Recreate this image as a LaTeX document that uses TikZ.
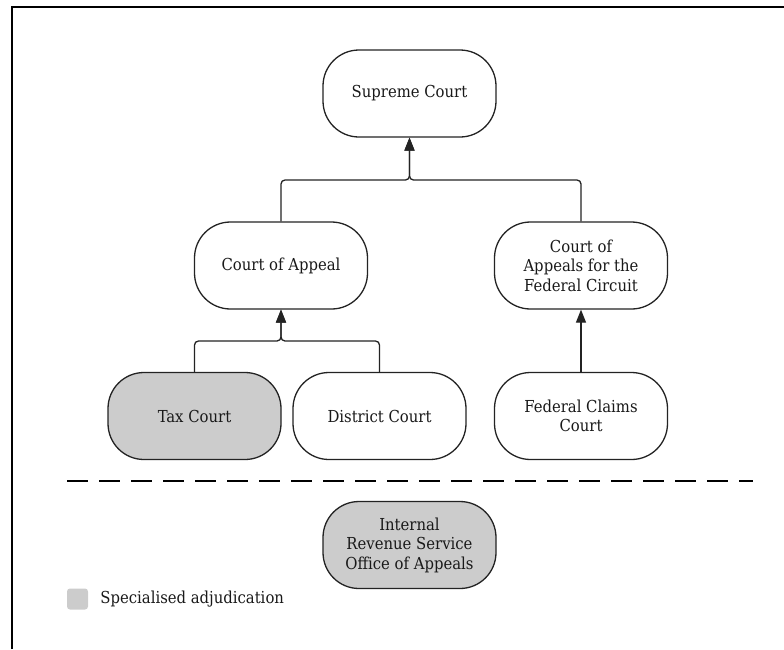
\documentclass[tikz,border=0pt]{standalone}
\usepackage{fontspec}
\setmainfont{DejaVu Serif Condensed}
\usetikzlibrary{arrows.meta}
\definecolor{specgray}{RGB}{204,204,204}
\definecolor{linegray}{RGB}{35,35,35}

\begin{document}
\begin{tikzpicture}[x=1pt,y=-1pt,
    court/.style={draw=linegray,line width=1.3pt,rounded corners=36pt,
        minimum width=173pt,minimum height=87pt,align=center,
        font=\fontsize{16.5}{19.5}\selectfont,text=black!90},
    special/.style={court,fill=specgray},
    link/.style={draw=linegray,line width=1.3pt,rounded corners=4pt},
    appeal/.style={link,-{Triangle[length=13pt,width=10pt]}}]
    \useasboundingbox (0,0) rectangle (784,649);
    % Cornice
    \draw[line width=2pt] (12,649) |- (784,7);
    % Tribunali
    \node[court] (supreme) at (409.5,93.5) {Supreme Court};
    \node[court] (circuit) at (281,265.5) {Court of Appeal};
    \node[court] (fedcirc) at (581,265.5) {Court of\\Appeals for the\\Federal Circuit};
    \node[special] (tax) at (194.5,416) {Tax Court};
    \node[court] (district) at (379.5,416) {District Court};
    \node[court] (claims) at (581,416) {Federal Claims\\Court};
    \node[special] (irs) at (409.5,545) {Internal\\Revenue Service\\Office of Appeals};
    % Punti di raccordo
    \coordinate (topjoin) at (409.5,180);
    \coordinate (lowjoin) at (281,341);
    % Disegna le frecce
    \draw[appeal] (circuit.north) |- (topjoin) -- (supreme.south);
    \draw[appeal] (fedcirc.north) |- (topjoin) -- (supreme.south);
    \draw[appeal] (tax.north) |- (lowjoin) -- (circuit.south);
    \draw[appeal] (district.north) |- (lowjoin) -- (circuit.south);
    \draw[appeal] (claims.north) -- (fedcirc.south);
    % Linea tratteggiata
    \draw[line width=2.6pt,dash pattern=on 21pt off 11pt] (67,481) -- (753,481);
    % Legenda
    \node[fill=specgray,rounded corners=3pt,minimum size=21pt,inner sep=0pt] (legendkey) at (77.5,599) {};
    \node[anchor=west,inner sep=0pt,font=\fontsize{16.5}{19.5}\selectfont,text=black!90]
        (legendtext) at ([xshift=12pt]legendkey.east) {Specialised adjudication};
\end{tikzpicture}
\end{document}
